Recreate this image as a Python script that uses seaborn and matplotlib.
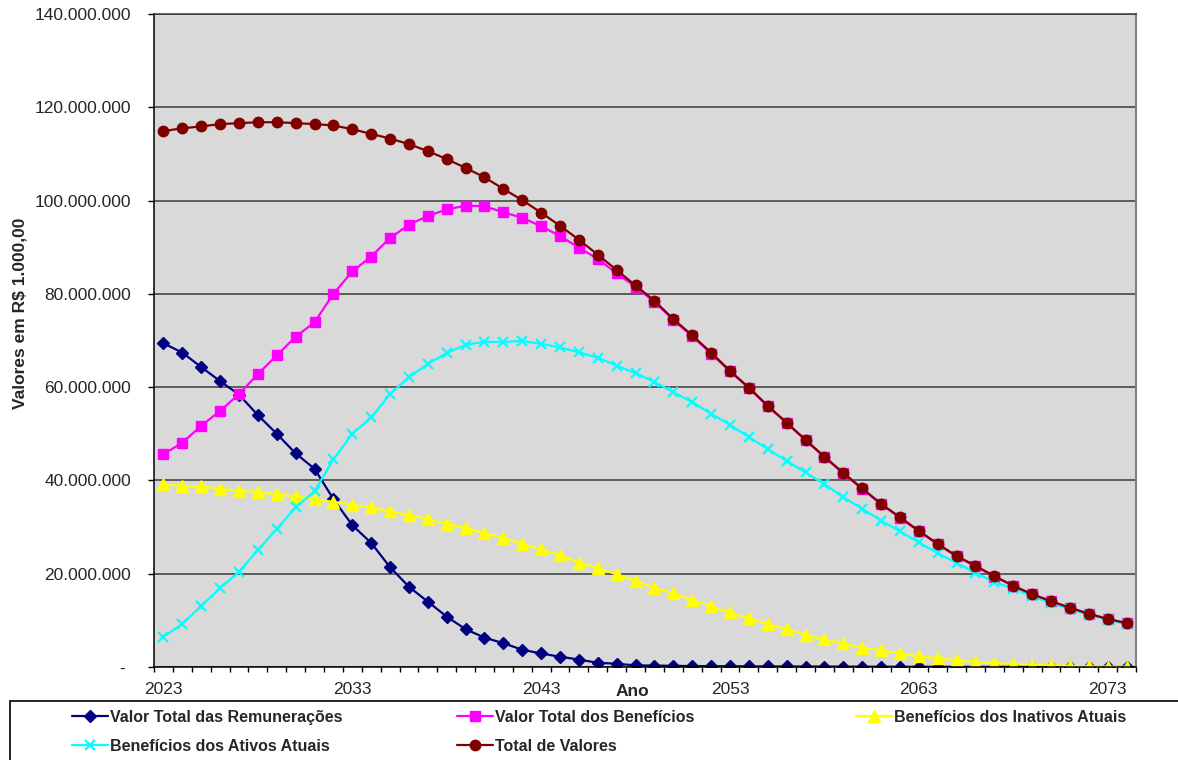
import numpy as np
import pandas as pd
import matplotlib
matplotlib.use("Agg")
import matplotlib.pyplot as plt
import seaborn as sns
from matplotlib.ticker import FuncFormatter
from matplotlib.patches import Rectangle

# ---------------- data (values in millions of R$ 1.000,00) ----------------
years = list(range(2023, 2075))

remuneracoes = [69.4, 67.4, 64.3, 61.3, 58.4, 54.0, 50.0, 45.8, 42.5, 36.0,
                30.4, 26.6, 21.4, 17.2, 14.0, 10.8, 8.1, 6.3, 5.1, 3.7,
                2.9, 2.2, 1.6, 0.9, 0.7, 0.35, 0.3, 0.25, 0.2, 0.18,
                0.16, 0.14, 0.12, 0.11, 0.1, 0.09, 0.08, 0.07, 0.06, 0.05,
                0.05, 0.04, 0.04, 0.03, 0.03, 0.02, 0.02, 0.02, 0.01, 0.01,
                0.01, 0.01]

beneficios = [45.6, 48.1, 51.7, 54.9, 58.5, 62.8, 66.8, 70.8, 73.9, 80.0,
              84.8, 88.0, 92.0, 94.8, 96.7, 98.1, 98.9, 98.8, 97.5, 96.3,
              94.5, 92.4, 89.9, 87.5, 84.4, 81.5, 78.3, 74.4, 70.9, 67.2,
              63.4, 59.8, 55.9, 52.3, 48.6, 45.0, 41.5, 38.2, 34.9, 32.0,
              29.1, 26.3, 23.7, 21.6, 19.4, 17.4, 15.6, 14.1, 12.7, 11.4,
              10.3, 9.4]

inativos = [39.2, 38.8, 38.7, 38.2, 37.8, 37.5, 37.0, 36.6, 36.0, 35.4,
            34.8, 34.2, 33.4, 32.6, 31.7, 30.7, 29.8, 28.7, 27.7, 26.4,
            25.2, 24.0, 22.4, 21.2, 19.9, 18.5, 17.0, 15.8, 14.4, 13.0,
            11.7, 10.4, 9.2, 8.1, 6.9, 5.9, 5.1, 4.1, 3.6, 2.9,
            2.3, 1.9, 1.4, 1.1, 0.86, 0.64, 0.5, 0.36, 0.25, 0.15,
            0.1, 0.05]

ativos = [6.5, 9.2, 13.1, 16.9, 20.4, 25.1, 29.6, 34.2, 37.7, 44.5,
          50.0, 53.5, 58.5, 62.1, 65.0, 67.3, 69.1, 69.7, 69.7, 69.9,
          69.3, 68.5, 67.5, 66.3, 64.6, 63.0, 61.1, 58.9, 56.8, 54.3,
          51.9, 49.3, 46.7, 44.2, 41.7, 39.2, 36.4, 33.9, 31.4, 29.1,
          26.7, 24.4, 22.3, 20.2, 18.2, 16.8, 15.2, 13.7, 12.4, 11.2,
          10.1, 9.2]

total = [114.9, 115.5, 115.9, 116.4, 116.6, 116.8, 116.8, 116.6, 116.4, 116.1,
         115.3, 114.3, 113.3, 112.1, 110.6, 108.9, 107.0, 105.0, 102.5, 100.1,
         97.4, 94.6, 91.6, 88.4, 85.1, 81.8, 78.5, 74.6, 71.1, 67.4,
         63.5, 59.9, 56.0, 52.4, 48.7, 45.1, 41.6, 38.3, 35.0, 32.1,
         29.2, 26.4, 23.8, 21.7, 19.5, 17.4, 15.6, 14.1, 12.7, 11.4,
         10.3, 9.4]

labels = ["Valor Total das Remunerações", "Valor Total dos Benefícios",
          "Benefícios dos Inativos Atuais", "Benefícios dos Ativos Atuais",
          "Total de Valores"]
x_tick_years = [2023, 2033, 2043, 2053, 2063, 2073]
y_ticks = [0, 20e6, 40e6, 60e6, 80e6, 100e6, 120e6, 140e6]

# ---------------- style ----------------
sns.set_style("white")
plt.rcParams["font.family"] = ["Liberation Sans", "DejaVu Sans"]

W, H = 1178, 760
fig = plt.figure(figsize=(W / 100, H / 100), dpi=100)
fig.patch.set_facecolor("white")
ax = fig.add_axes([154 / W, 1 - 667 / H, (1136 - 154) / W, (667 - 14) / H])
ax.set_facecolor("#D9D9D9")

styles = [
    (remuneracoes, "#000080", "D", 6.5),
    (beneficios, "#FF00FF", "s", 7.5),
    (inativos, "#FFFF00", "^", 8),
    (ativos, "#00FFFF", "x", 7),
    (total, "#800000", "o", 7.5),
]

df = pd.DataFrame({"Ano": years})
handles = []
for lab, (vals, col, mk, ms) in zip(labels, styles):
    df[lab] = np.array(vals) * 1e6
    sns.lineplot(data=df, x="Ano", y=lab, ax=ax, color=col, marker=mk,
                 markersize=ms, markeredgecolor=col, markerfacecolor=col,
                 markeredgewidth=1.6 if mk == "x" else 1,
                 linewidth=1.6, label=lab, legend=False)
    handles.append(ax.lines[-1])

ax.set_xlim(2022.5, 2074.5)
ax.set_ylim(0, 140e6)
ax.set_xlabel("")
ax.set_ylabel("")

ax.set_yticks(y_ticks)
ax.yaxis.set_major_formatter(FuncFormatter(
    lambda v, p: "- " if v == 0 else f"{int(round(v)):,}".replace(",", ".")))
ax.grid(axis="y", color="#3A3A3A", linewidth=1.1)
ax.grid(axis="x", visible=False)
ax.set_axisbelow(True)

ax.set_xticks(x_tick_years)
ax.set_xticklabels([str(y) for y in x_tick_years])
ax.set_xticks(np.arange(2022.5, 2075.0, 1.0), minor=True)
ax.tick_params(axis="x", which="major", length=0, pad=11, labelsize=12.5)
ax.tick_params(axis="x", which="minor", length=3.5, width=1, direction="out",
               color="black", bottom=True)
ax.tick_params(axis="y", which="major", length=4.5, width=1, direction="out",
               color="black", left=True, labelsize=12.5, pad=12)

for side in ["left", "bottom"]:
    ax.spines[side].set_color("black")
    ax.spines[side].set_linewidth(1.1)
ax.spines["right"].set_color("#808080")
ax.spines["right"].set_linewidth(1.5)
ax.spines["top"].set_color("#3A3A3A")
ax.spines["top"].set_linewidth(1.1)

fig.text(20 / W, 1 - 313 / H, "Valores em R$ 1.000,00", rotation=90,
         ha="center", va="center", fontsize=12.5, fontweight="bold")
fig.text(632 / W, 1 - 691 / H, "Ano", ha="center", va="center",
         fontsize=12.5, fontweight="bold")

# legend box
fig.patches.append(Rectangle((10 / W, -0.1), 1.2, 0.1 + (H - 701) / H,
                             transform=fig.transFigure, fill=False,
                             edgecolor="black", linewidth=1.2, clip_on=False))

legend_cols = [([0, 3], 72), ([1, 4], 457), ([2], 856)]
for idxs, xpix in legend_cols:
    leg = fig.legend([handles[i] for i in idxs], [labels[i] for i in idxs],
                     loc="upper left",
                     bbox_to_anchor=(xpix / W, 1 - 710 / H),
                     bbox_transform=fig.transFigure,
                     frameon=False, borderpad=0, borderaxespad=0,
                     handlelength=2.25, handletextpad=0.15,
                     labelspacing=0.88,
                     prop={"weight": "bold", "size": 11.5})

fig.savefig("out.png", dpi=100)
